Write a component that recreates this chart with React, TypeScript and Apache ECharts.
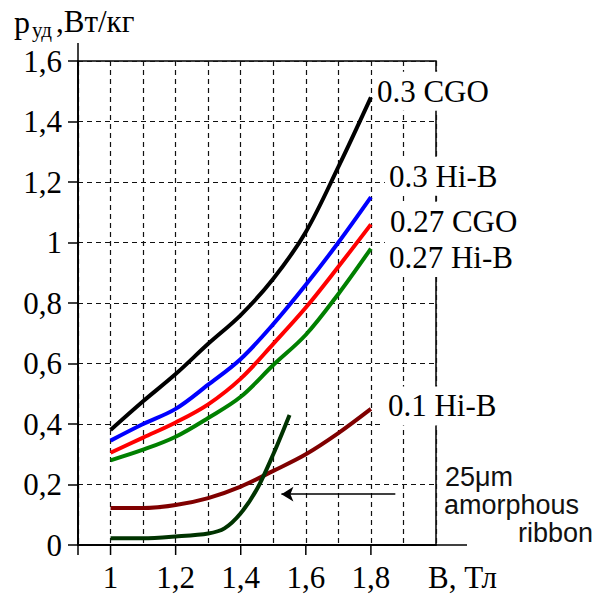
import React, { useEffect, useRef } from 'react';
import * as echarts from 'echarts';

// Magnetic induction B, T (sample points of the loss curves)
const fieldB = [1.0, 1.1, 1.2, 1.3, 1.4, 1.5, 1.6, 1.7, 1.8];
// Specific core loss, W/kg, for each steel grade / thickness
const cgo030 = [0.38, 0.475, 0.565, 0.665, 0.76, 0.88, 1.035, 1.25, 1.48];
const hib030 = [0.345, 0.4, 0.45, 0.53, 0.615, 0.73, 0.86, 1.0, 1.15];
const cgo027 = [0.305, 0.355, 0.405, 0.465, 0.55, 0.665, 0.785, 0.92, 1.06];
const hib027 = [0.28, 0.315, 0.358, 0.42, 0.49, 0.595, 0.695, 0.83, 0.98];
const hib010 = [0.122, 0.122, 0.132, 0.155, 0.193, 0.245, 0.3, 0.37, 0.45];
// 25 µm amorphous ribbon
const ribbonB = [1.0, 1.1, 1.2, 1.3, 1.35, 1.4, 1.45, 1.5, 1.55];
const ribbonLoss = [0.022, 0.022, 0.028, 0.038, 0.055, 0.105, 0.185, 0.3, 0.43];

// Labelled ticks on the B axis
const xMajorTicks = [1.0, 1.2, 1.4, 1.6, 1.8];
// Pointer to the amorphous-ribbon curve (B from, B to, loss level)
const pointerFrom = 1.525;
const pointerTo = 1.875;
const pointerLevel = 0.168;

const SERIF = "'Liberation Serif', 'Times New Roman', serif";
const SANS = "'Liberation Sans', Arial, sans-serif";

const pairs = (xs: number[], ys: number[]) => xs.map((x, i) => [x, ys[i]]);
const decimalComma = (v: number) => String(Math.round(v * 10) / 10).replace('.', ',');

const curve = (
  name: string,
  color: string,
  xs: number[],
  ys: number[],
  offset: [number, number] | null,
  extra: Record<string, unknown> = {}
) => ({
  name,
  type: 'line',
  data: pairs(xs, ys),
  showSymbol: false,
  smooth: 0.35,
  lineStyle: { color, width: 4 },
  itemStyle: { color },
  z: 3,
  endLabel: offset
    ? {
        show: true,
        formatter: '{a}',
        fontFamily: SERIF,
        fontSize: 31,
        color: '#000',
        backgroundColor: '#fff',
        padding: [2, 4, 6, 4],
        distance: 0,
        offset,
      }
    : { show: false },
  ...extra,
});

export default function App() {
  const ref = useRef<HTMLDivElement>(null);

  useEffect(() => {
    const chart = echarts.init(ref.current!, null, { renderer: 'svg' });
    const gridLine = { type: [5, 4], color: '#111', width: 1.2 };

    chart.setOption({
      animation: false,
      backgroundColor: '#fff',
      grid: {
        left: 78,
        right: 177,
        top: 61,
        bottom: 51,
        show: true,
        borderColor: '#000',
        borderWidth: 1.5,
        backgroundColor: 'transparent',
      },
      xAxis: {
        type: 'value',
        min: 0.9,
        max: 2.0,
        interval: 0.1,
        axisLine: { show: true, lineStyle: { color: '#000', width: 1.5 } },
        axisTick: { show: false },
        axisLabel: {
          margin: 17,
          color: '#000',
          fontFamily: SERIF,
          fontSize: 31,
          showMinLabel: true,
          showMaxLabel: true,
          formatter: (v: number) =>
            xMajorTicks.some((t) => Math.abs(t - v) < 1e-6) ? decimalComma(v) : '',
        },
        splitLine: { show: true, lineStyle: gridLine },
      },
      yAxis: {
        type: 'value',
        min: 0,
        max: 1.6,
        interval: 0.2,
        axisLine: { show: true, lineStyle: { color: '#000', width: 1.5 } },
        axisTick: { show: true, length: 10, lineStyle: { color: '#000', width: 1.5 } },
        axisLabel: {
          margin: 16,
          color: '#000',
          fontFamily: SERIF,
          fontSize: 31,
          formatter: (v: number) => decimalComma(v),
        },
        splitLine: { show: true, lineStyle: gridLine },
      },
      series: [
        curve('0.3 CGO', '#000000', fieldB, cgo030, [2, -6]),
        curve('0.3 Hi-B', '#0000ff', fieldB, hib030, [14, -21]),
        curve('0.27 CGO', '#ff0000', fieldB, cgo027, [15, -3]),
        curve('0.27 Hi-B', '#008000', fieldB, hib027, [14, 9]),
        curve('0.1 Hi-B', '#800000', fieldB, hib010, [13, -3]),
        curve('25μm amorphous ribbon', '#003300', ribbonB, ribbonLoss, null, {
          smooth: 0.3,
          markLine: {
            silent: true,
            symbol: ['arrow', 'none'],
            symbolSize: [11, 12],
            label: { show: false },
            lineStyle: { color: '#000', width: 1.5, type: 'solid' },
            data: [[{ coord: [pointerFrom, pointerLevel] }, { coord: [pointerTo, pointerLevel] }]],
          },
        }),
      ],
    });

    const px = (x: number, y: number) =>
      chart.convertToPixel({ gridIndex: 0 }, [x, y]) as number[];
    const origin = px(0.9, 0);
    const corner = px(2.0, 1.6);
    const axisStroke = { stroke: '#000', lineWidth: 1.5 };

    const bottomTicks = xMajorTicks.map((t) => {
      const p = px(t, 0);
      return {
        type: 'line',
        shape: { x1: p[0], y1: p[1], x2: p[0], y2: p[1] + 10 },
        style: axisStroke,
        silent: true,
      };
    });

    chart.setOption({
      graphic: [
        // extended axis lines
        {
          type: 'line',
          shape: { x1: origin[0], y1: corner[1] - 18, x2: origin[0], y2: origin[1] + 10 },
          style: axisStroke,
          silent: true,
        },
        {
          type: 'line',
          shape: { x1: origin[0], y1: origin[1], x2: corner[0] + 31, y2: origin[1] },
          style: axisStroke,
          silent: true,
        },
        ...bottomTicks,
        // axis names
        {
          type: 'text',
          x: corner[0] - 8,
          y: origin[1] + 32,
          style: { text: 'В, Тл', font: `31px ${SERIF}`, fill: '#000', align: 'left', verticalAlign: 'middle' },
        },
        {
          type: 'text',
          x: 14,
          y: 21.5,
          style: { text: 'p', font: `32px ${SERIF}`, fill: '#000', align: 'left', verticalAlign: 'middle' },
        },
        {
          type: 'text',
          x: 32,
          y: 30,
          style: { text: 'уд', font: `21px ${SERIF}`, fill: '#000', align: 'left', verticalAlign: 'middle' },
        },
        {
          type: 'text',
          x: 56,
          y: 21.5,
          style: { text: ',Вт/кг', font: `31px ${SERIF}`, fill: '#000', align: 'left', verticalAlign: 'middle' },
        },
        // amorphous ribbon caption
        {
          type: 'text',
          x: corner[0] + 9,
          y: 477,
          style: { text: '25μm', font: `27px ${SANS}`, fill: '#111', align: 'left', verticalAlign: 'middle' },
        },
        {
          type: 'text',
          x: corner[0] + 8,
          y: 505,
          style: { text: 'amorphous', font: `27px ${SANS}`, fill: '#111', align: 'left', verticalAlign: 'middle' },
        },
        {
          type: 'text',
          x: corner[0] + 157,
          y: 533,
          style: { text: 'ribbon', font: `27px ${SANS}`, fill: '#111', align: 'right', verticalAlign: 'middle' },
        },
      ],
    });

    return () => chart.dispose();
  }, []);

  return (
    <div
      ref={ref}
      style={{ position: 'fixed', left: 0, top: 0, width: 613, height: 596, background: '#fff' }}
    />
  );
}
